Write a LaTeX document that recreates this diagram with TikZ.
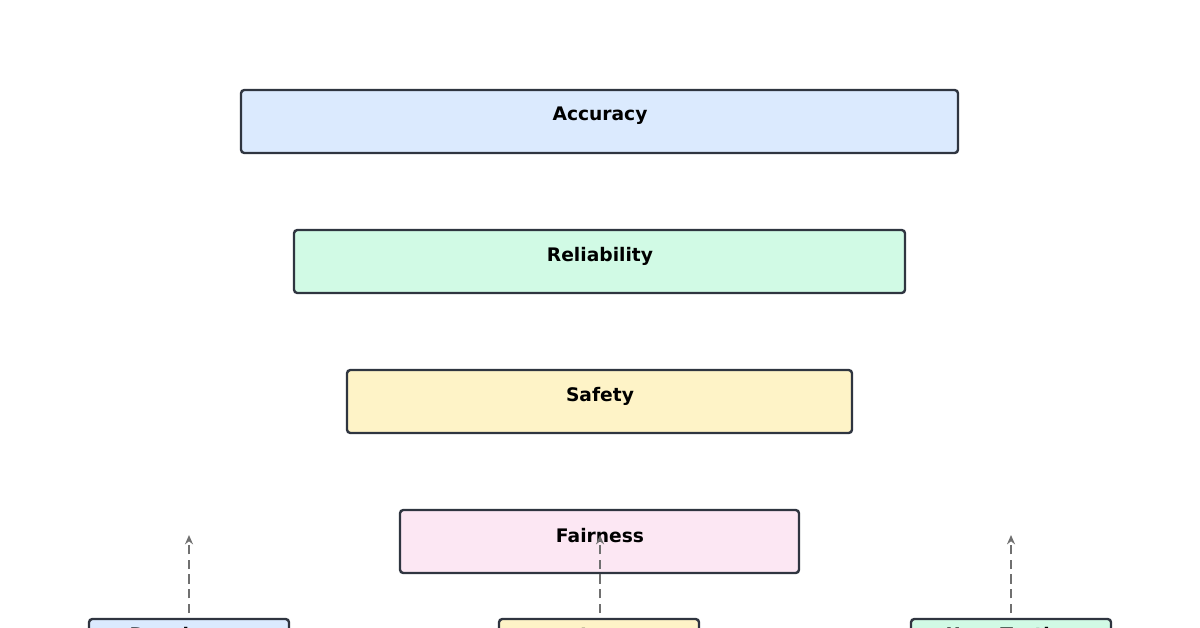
\documentclass[tikz,border=0pt]{standalone}
\usepackage{fontspec}
\setmainfont{DejaVu Sans}
\usetikzlibrary{arrows.meta}
\definecolor{cblue}{HTML}{DBEAFE}
\definecolor{cgreen}{HTML}{D1FAE5}
\definecolor{cyellow}{HTML}{FEF3C7}
\definecolor{cpink}{HTML}{FCE7F3}
\definecolor{cline}{HTML}{2F3540}
\definecolor{carrow}{HTML}{707070}
\tikzset{
	tier/.style={draw=cline,line width=1.8pt,rounded corners=2.5pt,inner sep=0pt},
	lbl/.style={font=\bfseries\fontsize{14}{16}\selectfont,text=black},
	feed/.style={draw=carrow,line width=1.5pt,dashed,dash pattern=on 7pt off 4pt,-{Stealth[length=7pt,width=6pt,open]}}
}
\begin{document}
\begin{tikzpicture}[x=0.75pt,y=-0.75pt]
	\useasboundingbox (0,0) rectangle (1200,628);
	\clip (0,0) rectangle (1200,628);
	% tiers
	\draw[tier,fill=cblue] (241,90) rectangle (958,153);
	\node[lbl] (acc) at (600,116) {Accuracy};
	\draw[tier,fill=cgreen] (294,230) rectangle (905,293);
	\node[lbl] (rel) at (600,256) {Reliability};
	\draw[tier,fill=cyellow] (347,370) rectangle (852,433);
	\node[lbl] (saf) at (600,396) {Safety};
	\draw[tier,fill=cpink] (400,510) rectangle (799,573);
	\node[lbl] (fair) at (600,536) {Fairness};
	% sources
	\draw[tier,fill=cblue] (89,619) rectangle (289,682);
	\node[lbl] (dev) at (189,636) {Developers};
	\draw[tier,fill=cyellow] (499,619) rectangle (699,682);
	\node[lbl] (end) at (600,636) {End Users};
	\draw[tier,fill=cgreen] (911,619) rectangle (1111,682);
	\node[lbl] (usr) at (1011,636) {User Testing};
	% feedback
	\coordinate (t1) at (189,535);
	\coordinate (t2) at (600,535);
	\coordinate (t3) at (1011,535);
	\draw[feed] (189,613) -- (t1);
	\draw[feed] (600,613) -- (t2);
	\draw[feed] (1011,613) -- (t3);
\end{tikzpicture}
\end{document}
